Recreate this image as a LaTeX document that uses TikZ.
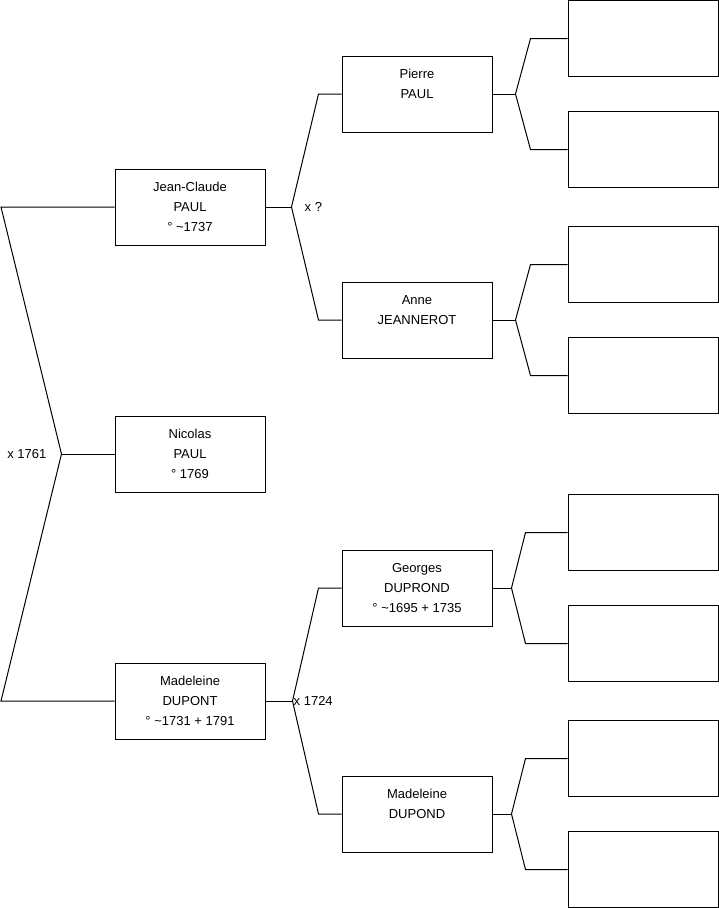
\documentclass[tikz,border=0pt]{standalone}
\usepackage{fontspec}
\setmainfont{Liberation Sans}
\usetikzlibrary{positioning}

\begin{document}
\begin{tikzpicture}[
    x=1pt, y=-1pt,
    node distance=170pt,
    person/.style={rectangle, draw=black, line width=1pt, minimum width=150pt, minimum height=76pt, align=center, inner sep=0pt, font=\fontsize{13}{20}\selectfont},
    mariage/.style={inner sep=0pt, font=\fontsize{13}{20}\selectfont},
    line/.style={-, draw=black, line width=1pt}
]
    \useasboundingbox (0,0) rectangle (719,908);

    % Generation 1
    \node[person] (nicolas) at (190,454) {Nicolas\\PAUL\\° 1769};
    \node[person, above=of nicolas] (jeanclaude) {Jean-Claude\\PAUL\\° \textasciitilde1737};
    \node[person, below=of nicolas] (madeleinedupont) {Madeleine\\DUPONT\\° \textasciitilde1731 + 1791};

    % Generation 2
    \node[person, right=76pt of jeanclaude, yshift=113pt] (pierre) {Pierre\\PAUL\\\phantom{0}};
    \node[person, right=76pt of jeanclaude, yshift=-113pt] (anne) {Anne\\JEANNEROT\\\phantom{0}};
    \node[person, right=76pt of madeleinedupont, yshift=113pt] (georges) {Georges\\DUPROND\\° \textasciitilde1695 + 1735};
    \node[person, right=76pt of madeleinedupont, yshift=-113pt] (madeleinedupond) {Madeleine\\DUPOND\\\phantom{0}};

    % Parents
    \coordinate (edge) at (1,0);
    \coordinate (couple1) at ([xshift=-53pt]nicolas.west);
    \draw[line] (jeanclaude.west) -- (jeanclaude.west -| edge) -- (couple1) -- (madeleinedupont.west -| edge) -- (madeleinedupont.west);
    \draw[line] (couple1) -- (nicolas.west);
    \node[mariage, anchor=east] (mariage1) at ([xshift=-15pt]couple1) {x 1761};

    % Grandparents
    \coordinate (couple2) at ([xshift=26pt]jeanclaude.east);
    \draw[line] (jeanclaude.east) -- (couple2);
    \draw[line] (pierre.west) -- ++(-23,0) -- (couple2) -- ([xshift=-23pt]anne.west) -- (anne.west);
    \node[mariage, anchor=west] (mariage2) at ([xshift=13pt]couple2) {x ?};

    \coordinate (couple3) at ([xshift=27pt]madeleinedupont.east);
    \draw[line] (madeleinedupont.east) -- (couple3);
    \draw[line] (georges.west) -- ++(-23,0) -- (couple3) -- ([xshift=-23pt]madeleinedupond.west) -- (madeleinedupond.west);
    \node[mariage, anchor=west] (mariage3) at ([xshift=1pt]couple3) {x 1724};

    % Great-grandparents (empty)
    \foreach \p/\j/\b in {pierre/23/37, anne/23/37, georges/19/42, madeleinedupond/19/42} {
        \node[person, right=75pt of \p, yshift=55.5pt] (\p-pere) {};
        \node[person, right=75pt of \p, yshift=-55.5pt] (\p-mere) {};
        \coordinate (\p-couple) at ([xshift=\j pt]\p.east);
        \draw[line] (\p.east) -- (\p-couple);
        \draw[line] (\p-pere.west) -- ++(-\b,0) -- (\p-couple) -- ([xshift=-\b pt]\p-mere.west) -- (\p-mere.west);
    }

\end{tikzpicture}
\end{document}
